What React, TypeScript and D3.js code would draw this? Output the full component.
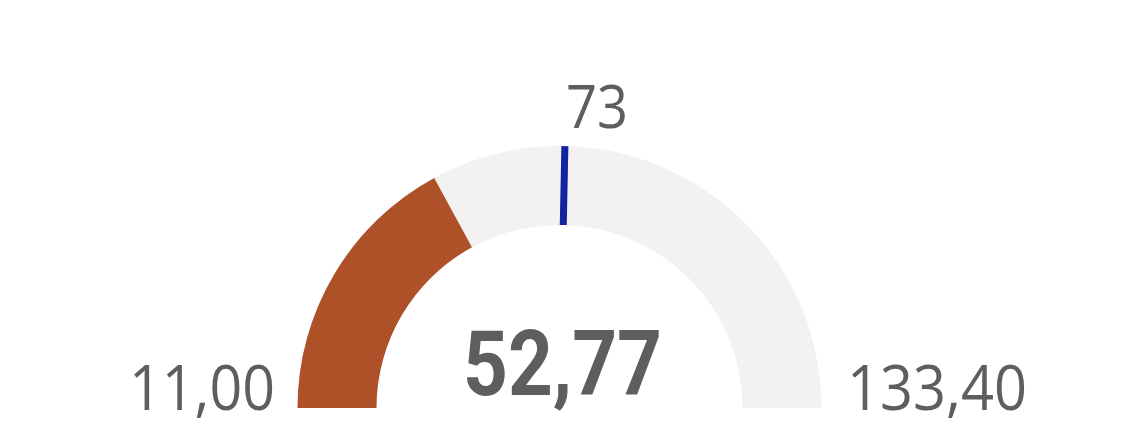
import { useEffect, useRef } from "react";
import * as d3 from "d3";

// gauge values
const gaugeMin = [11.0];
const gaugeMax = [133.4];
const gaugeValue = [52.77];
const gaugeTarget = [73];
const labelFormat = ["11,00", "133,40", "52,77", "73"];

const W = 1128;
const H = 427;

const App = () => {
  const svgRef = useRef<SVGSVGElement | null>(null);

  useEffect(() => {
    const svg = d3.select(svgRef.current);
    svg.selectAll("*").remove();

    const cx = 559.5;
    const cy = 408;
    const outerR = 262;
    const innerR = 183;

    // value -> angle (radians, d3.arc convention: 0 at top, clockwise)
    const angle = d3
      .scaleLinear()
      .domain([gaugeMin[0], gaugeMax[0]])
      .range([-Math.PI / 2, Math.PI / 2]);

    const arc = d3.arc<any>().innerRadius(innerR).outerRadius(outerR);

    const g = svg.append("g").attr("transform", `translate(${cx},${cy})`);

    // background track
    g.append("path")
      .attr("d", arc({ startAngle: angle(gaugeMin[0]), endAngle: angle(gaugeMax[0]) }))
      .attr("fill", "#F3F2F1");

    // value fill
    g.append("path")
      .attr("d", arc({ startAngle: angle(gaugeMin[0]), endAngle: angle(gaugeValue[0]) }))
      .attr("fill", "#AE5129");

    // target marker
    const ta = angle(gaugeTarget[0]);
    g.append("line")
      .attr("x1", Math.sin(ta) * innerR)
      .attr("y1", -Math.cos(ta) * innerR)
      .attr("x2", Math.sin(ta) * outerR)
      .attr("y2", -Math.cos(ta) * outerR)
      .attr("stroke", "#1224A0")
      .attr("stroke-width", 7);

    const textColor = "#605E5C";
    const font = "'Open Sans', 'Noto Sans', sans-serif";

    // min label
    svg.append("text")
      .attr("x", 275)
      .attr("y", 410)
      .attr("text-anchor", "end")
      .attr("font-family", font)
      .attr("font-size", 62)
      .attr("fill", textColor)
      .attr("textLength", 146)
      .attr("lengthAdjust", "spacingAndGlyphs")
      .text(labelFormat[0]);

    // max label
    svg.append("text")
      .attr("x", 847)
      .attr("y", 410)
      .attr("text-anchor", "start")
      .attr("font-family", font)
      .attr("font-size", 62)
      .attr("fill", textColor)
      .attr("textLength", 180)
      .attr("lengthAdjust", "spacingAndGlyphs")
      .text(labelFormat[1]);

    // target label
    svg.append("text")
      .attr("x", 566)
      .attr("y", 128)
      .attr("text-anchor", "start")
      .attr("font-family", font)
      .attr("font-size", 60)
      .attr("fill", textColor)
      .attr("textLength", 62)
      .attr("lengthAdjust", "spacingAndGlyphs")
      .text(labelFormat[3]);

    // value
    svg.append("text")
      .attr("x", 463)
      .attr("y", 395)
      .attr("font-family", "Roboto, 'Open Sans', sans-serif")
      .attr("font-weight", 700)
      .attr("font-size", 91)
      .attr("fill", textColor)
      .attr("textLength", 199)
      .attr("lengthAdjust", "spacingAndGlyphs")
      .text(labelFormat[2]);
  }, []);

  return (
    <svg
      ref={svgRef}
      width={W}
      height={H}
      style={{ position: "absolute", left: 0, top: 0, background: "#ffffff" }}
    />
  );
};

export default App;
